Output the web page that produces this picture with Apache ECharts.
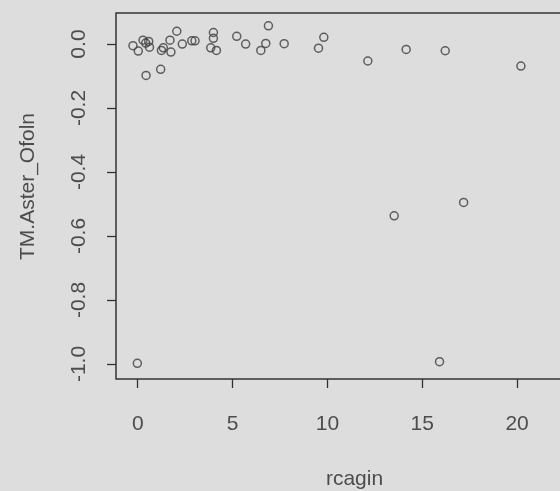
<!DOCTYPE html>
<html>
<head>
<meta charset="utf-8">
<script src="https://cdn.jsdelivr.net/npm/echarts@6/dist/echarts.min.js"></script>
<style>
  html, body { margin: 0; padding: 0; background: #dddddd; overflow: hidden; }
  #chart { width: 620px; height: 491px; }
</style>
</head>
<body>
<div id="chart"></div>
<script>
// rcagin vs TM.Aster_Ofoln, one open circle per observation
const rcagin = [
  -0.25, 0.03, 0.28, 0.42, 0.58, 0.62, 0.44, 1.21, 1.25, 1.35,
  1.70, 1.75, 2.06, 2.35, 2.85, 3.02, 3.99, 3.99, 3.85, 4.15,
  5.22, 5.69, 6.89, 6.75, 6.49, 7.72, 9.81, 9.53, 12.13, 14.15,
  16.21, 20.2, 13.52, 17.18, -0.02, 15.91
];
const tmAsterOfoln = [
  -0.005, -0.022, 0.012, 0.003, 0.008, -0.010, -0.098, -0.079, -0.020, -0.012,
  0.012, -0.025, 0.040, 0.000, 0.010, 0.010, 0.036, 0.018, -0.012, -0.020,
  0.024, 0.000, 0.057, 0.002, -0.020, 0.001, 0.021, -0.013, -0.053, -0.017,
  -0.021, -0.069, -0.537, -0.495, -0.998, -0.993
];
const xTicks = [0, 5, 10, 15, 20];
const yTicks = [-1.0, -0.8, -0.6, -0.4, -0.2, 0.0];

const points = rcagin.map((x, i) => [x, tmAsterOfoln[i]]);

const textColor = '#4d4d4d';
const inkColor = '#333333';
const font = 'Liberation Sans, Arial, Helvetica, sans-serif';
const fs = 21;

// the plot box runs on past the right edge of the visible page
const chart = echarts.init(document.getElementById('chart'), null, { renderer: 'canvas' });
chart.setOption({
  backgroundColor: '#dddddd',
  animation: false,
  grid: {
    left: 116, top: 13, width: 477, height: 366,
    outerBoundsMode: 'none',
    show: true, borderColor: inkColor, borderWidth: 1.5,
    backgroundColor: 'transparent', containLabel: false
  },
  xAxis: {
    type: 'value', min: -1.145, max: 24,
    name: 'rcagin', nameLocation: 'middle', nameGap: 90,
    nameTextStyle: { color: textColor, fontSize: fs, fontFamily: font },
    axisLine: { show: false, onZero: false },
    splitLine: { show: false },
    axisTick: {
      show: true, length: 9, customValues: xTicks,
      lineStyle: { color: inkColor, width: 1.3 }
    },
    axisLabel: {
      customValues: xTicks, margin: 35,
      color: textColor, fontSize: fs, fontFamily: font,
      formatter: v => String(v)
    }
  },
  yAxis: {
    type: 'value', min: -1.047, max: 0.097,
    name: 'TM.Aster_Ofoln', nameLocation: 'middle', nameGap: 77, nameRotate: 90,
    nameTextStyle: { color: textColor, fontSize: fs, fontFamily: font, padding: [0, 0, 0, 19] },
    axisLine: { show: false, onZero: false },
    splitLine: { show: false },
    axisTick: {
      show: true, length: 9, customValues: yTicks,
      lineStyle: { color: inkColor, width: 1.3 }
    },
    axisLabel: {
      customValues: yTicks, margin: 26, rotate: 90,
      color: textColor, fontSize: fs, fontFamily: font,
      formatter: v => v.toFixed(1)
    }
  },
  series: [{
    type: 'scatter',
    data: points,
    symbol: 'circle',
    symbolSize: 8,
    itemStyle: { color: 'rgba(0,0,0,0)', borderColor: '#3d3d3d', borderWidth: 1.5 }
  }]
});
</script>
</body>
</html>
